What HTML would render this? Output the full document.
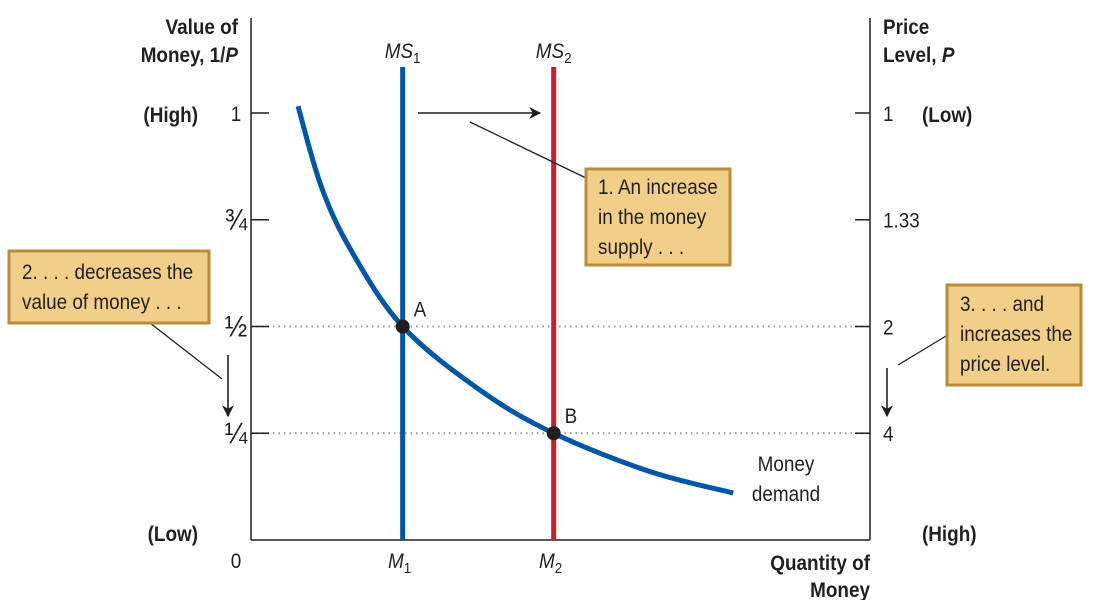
<!DOCTYPE html>
<html><head><meta charset="utf-8">
<style>
html,body{margin:0;padding:0;background:#fff;}
svg{display:block;}
text{font-family:"Liberation Sans Narrow","Liberation Sans",sans-serif;fill:#231f20;}
.b{font-weight:bold;}
</style></head>
<body>
<svg id="chart" width="1104" height="600" viewBox="0 0 1104 600">
<defs>
<marker id="ah" viewBox="0 0 10 10" refX="9" refY="5" markerWidth="18" markerHeight="12" markerUnits="userSpaceOnUse" orient="auto"><path d="M0,0 L10,5 L0,10 L3,5 z" fill="#231f20"/></marker>
</defs>
<g id="grid"></g>
<g id="axes" stroke="#231f20" stroke-width="1.5" fill="none">
<line x1="251" y1="18" x2="251" y2="540"/>
<line x1="251" y1="540" x2="870" y2="540"/>
<line x1="870" y1="18" x2="870" y2="540"/>
</g>
<g id="ticks"></g>
<g id="marks"></g>

<text x="238" y="34" text-anchor="end" font-size="21" class="b">Value of</text>
<text x="238" y="62" text-anchor="end" font-size="21" class="b">Money, 1/<tspan font-style="italic">P</tspan></text>
<text x="198" y="122" text-anchor="end" font-size="21" class="b">(High)</text>
<text x="198" y="541" text-anchor="end" font-size="21" class="b">(Low)</text>
<text x="236" y="568" text-anchor="middle" font-size="21">0</text>

<text x="883" y="34" font-size="21" class="b">Price</text>
<text x="883" y="62" font-size="21" class="b">Level, <tspan font-style="italic">P</tspan></text>
<text x="922" y="122" font-size="21" class="b">(Low)</text>
<text x="922" y="541" font-size="21" class="b">(High)</text>

<text x="870" y="570" text-anchor="end" font-size="21" class="b">Quantity of</text>
<text x="870" y="597" text-anchor="end" font-size="21" class="b">Money</text>

<text x="786" y="471" text-anchor="middle" font-size="21">Money</text>
<text x="786" y="501" text-anchor="middle" font-size="21">demand</text>

<line x1="418" y1="113" x2="540" y2="113" stroke="#231f20" stroke-width="1.6" marker-end="url(#ah)"/>
<line x1="470" y1="122" x2="586" y2="178" stroke="#231f20" stroke-width="1.3"/>
<line x1="150" y1="323" x2="222" y2="379" stroke="#231f20" stroke-width="1.3"/>
<line x1="228" y1="355" x2="228" y2="416" stroke="#231f20" stroke-width="1.6" marker-end="url(#ah)"/>
<line x1="946" y1="336" x2="898" y2="365" stroke="#231f20" stroke-width="1.3"/>
<line x1="887" y1="368" x2="887" y2="416" stroke="#231f20" stroke-width="1.6" marker-end="url(#ah)"/>

<g>
<rect x="586" y="169" width="144" height="96" fill="#f1cf88" stroke="#b98c3a" stroke-width="3"/>
<text x="598" y="194" font-size="21">1. An increase</text>
<text x="598" y="224" font-size="21">in the money</text>
<text x="598" y="254" font-size="21">supply . . .</text>
</g>
<g>
<rect x="9" y="251" width="200" height="72" fill="#f1cf88" stroke="#b98c3a" stroke-width="3"/>
<text x="22" y="279" font-size="21">2. . . . decreases the</text>
<text x="22" y="309" font-size="21">value of money . . .</text>
</g>
<g>
<rect x="947" y="285" width="134" height="100" fill="#f1cf88" stroke="#b98c3a" stroke-width="3"/>
<text x="960" y="311" font-size="21">3. . . . and</text>
<text x="960" y="341" font-size="21">increases the</text>
<text x="960" y="371" font-size="21">price level.</text>
</g>
</svg>
<script>
const leftTickLabels=["1","¾","½","¼"];
const tickValues=[1,0.75,0.5,0.25];
const rightTickLabels=["1","1.33","2","4"];
const supplyLabels=["M","M"];
const supplyQty=[24.5,48.9];
const demandQty=[7.6,11.3,16.1,24.5,37.1,48.9,64.5,77.9];
const demandVal=[1.016,0.83,0.68,0.5,0.35,0.25,0.16,0.11];
const eqQty=[24.5,48.9];
const eqVal=[0.5,0.25];
const eqLabels=["A","B"];
const NS="http://www.w3.org/2000/svg";
function X(q){return 251+q*6.19;}
function Y(v){return 540-v*427;}
function mk(tag,attrs,parent){const e=document.createElementNS(NS,tag);for(const k in attrs)e.setAttribute(k,attrs[k]);parent.appendChild(e);return e;}
const ticks=document.getElementById('ticks'),grid=document.getElementById('grid'),marks=document.getElementById('marks');
tickValues.forEach((v,i)=>{
  const y=Y(v);
  const t1=mk('line',{x1:251,y1:y,x2:269,y2:y,stroke:'#231f20','stroke-width':1.5},ticks);
  
  
  const t2=mk('line',{x1:855,y1:y,x2:870,y2:y,stroke:'#231f20','stroke-width':1.5},ticks);
  
  
  const l=mk('text',{x:236,y:y+(i==0?8:10),'text-anchor':'middle','font-size':(i==0?21:30)},ticks);
  l.textContent=leftTickLabels[i];
  
  
  const r=mk('text',{x:883,y:y+8,'font-size':21},ticks);
  r.textContent=rightTickLabels[i];
  
  
});
eqVal.forEach(v=>{
  const g=mk('line',{x1:251,y1:Y(v),x2:870,y2:Y(v),stroke:'#999','stroke-width':2,'stroke-dasharray':'1.5 4'},grid);
  
  
});
const colors=['#0057a8','#c8202f'];
supplyQty.forEach((q,i)=>{
  const l=mk('line',{x1:X(q),y1:67,x2:X(q),y2:540,stroke:colors[i],'stroke-width':5},marks);
  
  
  const t=mk('text',{x:X(q),y:58,'text-anchor':'middle','font-size':21,'font-style':'italic'},marks);
  t.innerHTML='MS<tspan font-size="15" dy="5" font-style="normal">'+(i+1)+'</tspan>';
  
  
  const m=mk('text',{x:X(q)-3,y:568,'text-anchor':'middle','font-size':21,'font-style':'italic'},marks);
  m.innerHTML=supplyLabels[i]+'<tspan font-size="15" dy="5" font-style="normal">'+(i+1)+'</tspan>';
  
  
});
const P=demandQty.map((q,i)=>[X(q),Y(demandVal[i])]);
let d='M'+P[0][0]+','+P[0][1];
for(let i=0;i<P.length-1;i++){
  const p0=P[Math.max(0,i-1)],p1=P[i],p2=P[i+1],p3=P[Math.min(P.length-1,i+2)];
  const c1=[p1[0]+(p2[0]-p0[0])/6,p1[1]+(p2[1]-p0[1])/6];
  const c2=[p2[0]-(p3[0]-p1[0])/6,p2[1]-(p3[1]-p1[1])/6];
  d+=' C'+c1+' '+c2+' '+p2;
}
const dc=mk('path',{d:d,fill:'none',stroke:'#0057a8','stroke-width':5},marks);


eqQty.forEach((q,i)=>{
  const c=mk('circle',{cx:X(q),cy:Y(eqVal[i]),r:7,fill:'#231f20'},marks);
  
  
  const t=mk('text',{x:X(q)+11,y:Y(eqVal[i])-10,'font-size':21},marks);
  t.textContent=eqLabels[i];
  
  
});
const S=0.9;
document.querySelectorAll('#chart text').forEach(t=>{
  const x=parseFloat(t.getAttribute('x'));
  t.setAttribute('x',x/S);
  t.setAttribute('transform','scale('+S+',1)');
});
</script>
</body></html>
